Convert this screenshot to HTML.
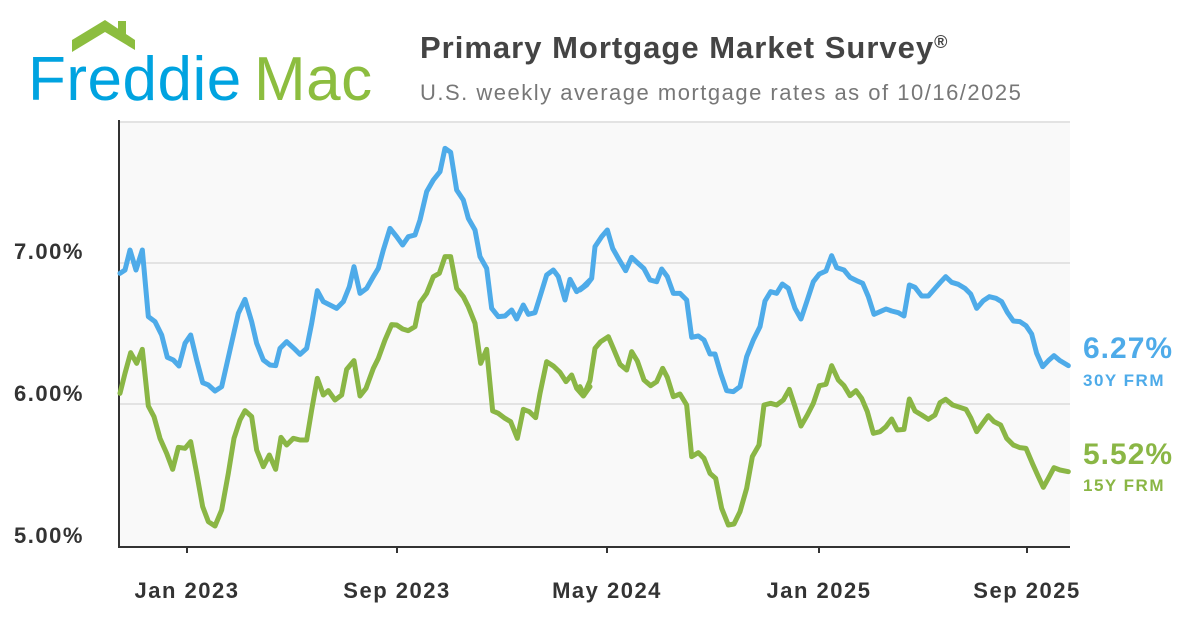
<!DOCTYPE html>
<html><head><meta charset="utf-8"><style>
html,body{margin:0;padding:0;background:#fff;}
body{width:1200px;height:630px;overflow:hidden;position:relative;font-family:"Liberation Sans",sans-serif;}
</style></head><body>
<svg width="1200" height="630" viewBox="0 0 1200 630" xmlns="http://www.w3.org/2000/svg" style="position:absolute;left:0;top:0">
<!-- logo -->
<polygon points="72,40 105,20 135,40 135,50 105,32 72,52" fill="#8cbd3f"/>
<rect x="118" y="21" width="8" height="14" fill="#8cbd3f"/>
<text x="28" y="100" font-family="Liberation Sans, sans-serif" font-size="62" fill="#00a3e0" letter-spacing="0.5">Freddie</text>
<text x="254" y="100" font-family="Liberation Sans, sans-serif" font-size="62" fill="#8cbd3f" letter-spacing="0.5">Mac</text>
<!-- titles -->
<text x="420" y="58" font-family="Liberation Sans, sans-serif" font-size="31" font-weight="bold" fill="#444" letter-spacing="1">Primary Mortgage Market Survey<tspan font-size="18" dy="-10">®</tspan></text>
<text x="420" y="100" font-family="Liberation Sans, sans-serif" font-size="22" fill="#777" letter-spacing="1.5">U.S. weekly average mortgage rates as of 10/16/2025</text>
<!-- plot area -->
<rect x="119" y="121" width="951" height="426" fill="#f9f9f9"/>
<line x1="119" y1="122" x2="1070" y2="122" stroke="#e3e3e3" stroke-width="2"/>
<line x1="119" y1="263" x2="1070" y2="263" stroke="#e3e3e3" stroke-width="2"/>
<line x1="119" y1="404" x2="1070" y2="404" stroke="#e3e3e3" stroke-width="2"/>
<line x1="119" y1="120" x2="119" y2="548" stroke="#333" stroke-width="2"/>
<line x1="118" y1="547" x2="1070" y2="547" stroke="#333" stroke-width="2"/>
<g stroke="#333" stroke-width="2">
<line x1="187" y1="547" x2="187" y2="553"/><line x1="397" y1="547" x2="397" y2="553"/>
<line x1="607" y1="547" x2="607" y2="553"/><line x1="819" y1="547" x2="819" y2="553"/>
<line x1="1027" y1="547" x2="1027" y2="553"/>
</g>
<g font-family="Liberation Sans, sans-serif" font-size="22" font-weight="bold" fill="#333" letter-spacing="1.5">
<text x="14" y="259">7.00%</text>
<text x="14" y="401">6.00%</text>
<text x="14" y="543">5.00%</text>
<g text-anchor="middle">
<text x="187" y="598">Jan 2023</text><text x="397" y="598">Sep 2023</text>
<text x="607" y="598">May 2024</text><text x="819" y="598">Jan 2025</text>
<text x="1027" y="598">Sep 2025</text>
</g>
</g>
<g fill="none" stroke-width="15" stroke-linejoin="round" stroke-linecap="round">
<g transform="translate(110,120) scale(0.33333)">
<polyline stroke="#4eabe9" points="30,460 45,450 60,390 78,450 97,390 115,590 135,605 155,645 172,712 190,720 207,738 225,670 242,645 260,720 278,788 295,795 315,813 335,800 360,690 385,580 405,538 425,605 440,670 460,720 480,735 497,737 510,685 530,665 555,688 570,703 590,685 605,610 622,512 640,545 660,555 680,565 700,545 718,500 732,440 750,520 770,505 790,470 805,445 820,390 840,325 860,350 878,375 895,350 915,345 930,300 950,215 970,180 990,155 1005,85 1022,97 1040,210 1060,240 1075,295 1095,330 1110,410 1130,445 1145,565 1165,590 1185,588 1205,570 1220,597 1240,555 1255,583 1275,578 1290,530 1310,465 1330,450 1345,470 1365,540 1380,478 1400,515 1420,500 1440,480"/>
<polyline stroke="#8ab645" points="30,820 45,760 62,698 80,730 97,688 115,858 132,890 150,955 170,1000 188,1048 205,982 225,985 242,965 260,1060 278,1160 295,1205 315,1218 335,1170 355,1060 372,955 390,900 405,872 425,890 440,990 460,1040 478,1005 497,1048 513,952 530,975 550,955 570,960 590,960 605,870 622,775 640,825 655,812 675,840 695,825 710,748 732,722 750,828 768,805 790,745 805,715 825,660 845,614 860,615 878,627 895,632 915,620 930,548 950,520 970,470 988,460 1005,410 1022,410 1040,505 1060,530 1075,560 1095,610 1112,730 1130,688 1148,873 1165,880 1185,895 1202,905 1222,955 1240,868 1258,875 1277,893 1290,820 1310,725 1330,738 1350,757 1368,785 1385,765 1400,805 1420,828 1440,800"/>
</g>
<g transform="translate(580,120) scale(0.33333)">
<polyline stroke="#4eabe9" points="0,510 20,495 35,475 45,380 65,350 82,330 98,385 115,415 137,452 155,412 172,428 192,446 210,480 230,485 245,447 262,470 280,520 300,520 320,540 335,652 355,648 372,660 390,702 405,702 422,760 440,812 460,815 480,800 500,710 520,660 540,620 555,543 572,515 590,520 607,492 625,505 645,565 663,597 682,540 700,485 718,462 738,453 755,407 770,443 792,450 810,472 830,482 848,490 865,530 882,583 900,575 918,567 935,573 955,578 972,588 988,495 1005,502 1025,528 1045,528 1065,505 1080,488 1097,470 1115,487 1135,493 1155,505 1172,522 1190,565 1210,542 1228,530 1248,535 1265,545 1282,577 1300,603 1320,605 1338,617 1355,642 1370,700 1388,740 1405,722 1422,707 1440,722 1465,737"/>
<polyline stroke="#8ab645" points="0,800 12,825 30,782 45,685 62,665 85,650 100,685 120,733 140,750 155,695 172,723 192,780 212,797 230,785 248,745 262,772 280,830 300,822 320,855 335,1010 355,998 372,1015 390,1060 407,1075 425,1165 445,1215 462,1212 480,1175 500,1105 517,1010 537,975 552,855 572,850 590,855 610,840 628,808 645,860 663,918 682,885 700,850 718,797 738,793 755,737 775,780 792,797 810,827 828,812 845,835 862,875 880,940 900,935 918,920 935,897 952,930 972,928 988,837 1005,873 1025,885 1045,898 1065,885 1080,848 1097,838 1118,855 1140,862 1158,868 1172,893 1190,935 1208,910 1225,887 1242,905 1262,915 1280,955 1300,975 1320,983 1338,985 1358,1032 1375,1070 1390,1102 1405,1075 1422,1043 1440,1050 1465,1055"/>
</g>
</g>
<g font-family="Liberation Sans, sans-serif" font-weight="bold">
<text x="1083" y="358" font-size="30" fill="#4eabe9" letter-spacing="1">6.27%</text>
<text x="1083" y="386" font-size="17" fill="#4eabe9" letter-spacing="1.5">30Y FRM</text>
<text x="1083" y="464" font-size="30" fill="#8ab645" letter-spacing="1">5.52%</text>
<text x="1083" y="491" font-size="17" fill="#8ab645" letter-spacing="1.5">15Y FRM</text>
</g>
</svg>
</body></html>
